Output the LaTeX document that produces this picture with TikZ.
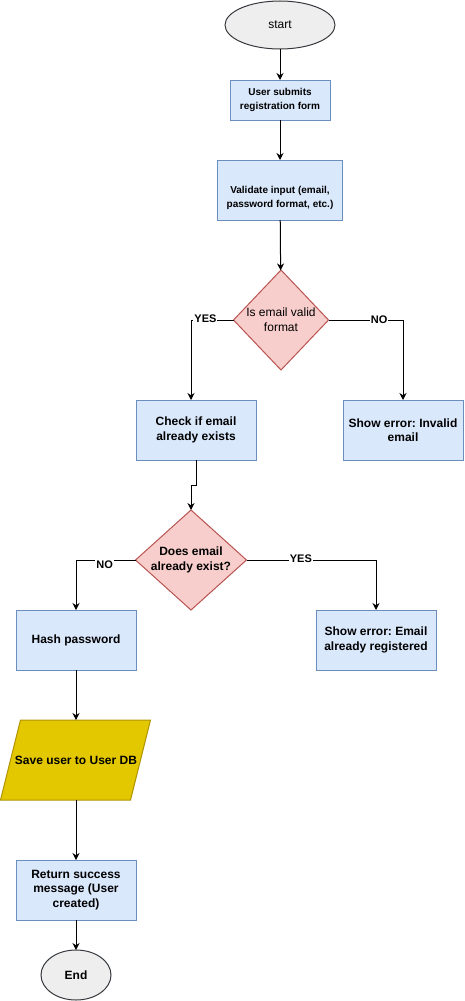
\documentclass[tikz,border=0pt]{standalone}
\usepackage{fontspec}
\setmainfont{Liberation Sans}
\usetikzlibrary{shapes.geometric,arrows.meta}
\definecolor{bfill}{HTML}{DAE8FC}
\definecolor{bdraw}{HTML}{6C8EBF}
\definecolor{rfill}{HTML}{F8CECC}
\definecolor{rdraw}{HTML}{B85450}
\definecolor{gfill}{HTML}{EEEEEE}
\definecolor{gdraw}{HTML}{36393D}
\definecolor{yfill}{HTML}{E3C800}
\definecolor{ydraw}{HTML}{B09500}
\frenchspacing
\begin{document}
\begin{tikzpicture}[x=1pt,y=-1pt,
 every node/.style={inner sep=0pt, outer sep=0pt},
 proc/.style={rectangle, draw=bdraw, fill=bfill, line width=1pt, align=center, font=\fontsize{12}{14.5}\selectfont\bfseries},
 smallproc/.style={proc, font=\fontsize{10}{14}\selectfont\bfseries},
 dec/.style={diamond, draw=rdraw, fill=rfill, line width=1pt},
 term/.style={ellipse, draw=gdraw, fill=gfill, line width=1pt, font=\fontsize{12}{14}\selectfont},
 iobox/.style={draw=ydraw, fill=yfill, line width=1pt, line join=miter},
 arr/.style={-{Stealth[length=7pt,width=7pt]}, line width=1pt, black},
 lbl/.style={fill=white, inner sep=1pt, font=\fontsize{11}{13}\selectfont\bfseries}
]
\useasboundingbox (0,0) rectangle (464,1001);

\node[term, minimum width=110pt, minimum height=48pt] (start) at (280,25) {start};
\node[smallproc, minimum width=100pt, minimum height=40pt] (b1) at (280,100) {User submits\\registration form};
\node[smallproc, minimum width=125pt, minimum height=60pt,
  label={[align=center, font=\fontsize{10}{14}\selectfont\bfseries, yshift=-8pt]center:Validate input (email,\\password format, etc.)}] (b2) at (280,190) {};
\node[dec, minimum width=95pt, minimum height=100pt,
  label={[align=center, font=\fontsize{12}{15}\selectfont]center:Is email valid\\format}] (d1) at (281,320) {};
\node[proc, minimum width=120pt, minimum height=60pt] (chk) at (196,430) {Check if email\\already exists};
\node[proc, minimum width=120pt, minimum height=60pt] (err1) at (403,430) {Show error: Invalid\\email};
\node[dec, minimum width=111pt, minimum height=100pt,
  label={[align=center, font=\fontsize{12}{15}\selectfont\bfseries]center:Does email\\already exist?}] (d2) at (191,560) {};
\node[proc, minimum width=120pt, minimum height=60pt] (hash) at (76,640) {Hash password};
\node[proc, minimum width=120pt, minimum height=60pt] (err2) at (376,640) {Show error: Email\\already registered};
\filldraw[iobox] (0.5,800) -- (20.5,720) -- (150.5,720) -- (130.5,800) -- cycle;
\node[minimum width=130pt, minimum height=80pt, font=\fontsize{12}{14}\selectfont\bfseries] (save) at (76,760) {Save user to User DB};
\node[proc, minimum width=120pt, minimum height=60pt] (ret) at (76,890) {Return success\\message (User\\created)};
\node[term, minimum width=70pt, minimum height=50pt, font=\fontsize{12}{14}\selectfont\bfseries] (stop) at (76,975) {End};

\draw[arr] (start) -- (b1);
\draw[arr] (b1) -- (b2);
\draw[arr] (b2) -- (d1);
\draw[arr] (d1.west) -| node[lbl,pos=0.33,yshift=1.5pt]{YES} ([xshift=-5pt]chk.north);
\draw[arr] (d1.east) -| node[lbl,pos=0.34]{NO} (err1.north);
\draw[arr] (chk.south) -- ++(0,25) -| (d2.north);
\draw[arr] (d2.west) -| node[lbl,pos=0.26,yshift=-5pt]{NO} (hash.north);
\draw[arr] (d2.east) -| node[lbl,pos=0.21,yshift=1pt]{YES} (err2.north);
\draw[arr] (hash) -- (save);
\draw[arr] (save) -- (ret);
\draw[arr] (ret) -- (stop);
\end{tikzpicture}
\end{document}
